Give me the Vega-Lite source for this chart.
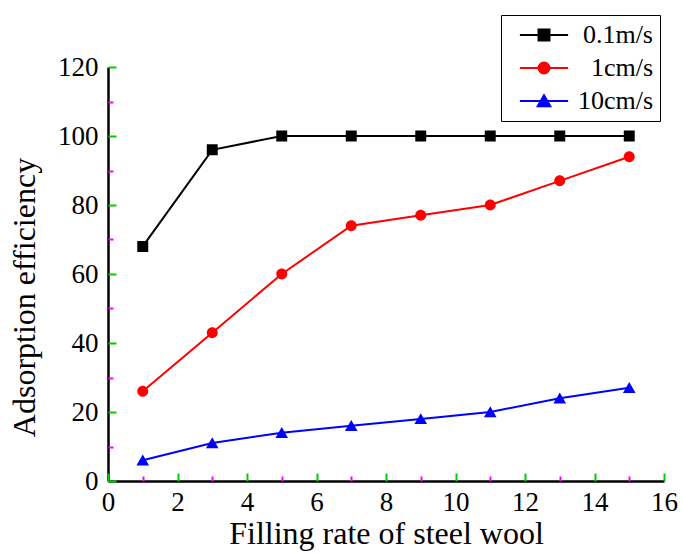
{
  "$schema": "https://vega.github.io/schema/vega-lite/v6.json",
  "width": 556,
  "height": 414,
  "autosize": {"type": "none"},
  "padding": {"left": 108, "top": 67, "right": 19, "bottom": 73},
  "background": "white",
  "config": {
    "font": "Liberation Serif",
    "view": {"stroke": null},
    "axis": {"grid": false, "domainColor": "black", "tickColor": "black", "labelColor": "black", "titleColor": "black", "labelFont": "Liberation Serif", "titleFont": "Liberation Serif", "titleFontWeight": "normal"},
    "legend": {"labelFont": "Liberation Serif"}
  },
  "data": {
    "values": [
      {"rate": 1, "eff": 68, "series": "0.1m/s"},
      {"rate": 3, "eff": 96, "series": "0.1m/s"},
      {"rate": 5, "eff": 100, "series": "0.1m/s"},
      {"rate": 7, "eff": 100, "series": "0.1m/s"},
      {"rate": 9, "eff": 100, "series": "0.1m/s"},
      {"rate": 11, "eff": 100, "series": "0.1m/s"},
      {"rate": 13, "eff": 100, "series": "0.1m/s"},
      {"rate": 15, "eff": 100, "series": "0.1m/s"},
      {"rate": 1, "eff": 26, "series": "1cm/s"},
      {"rate": 3, "eff": 43, "series": "1cm/s"},
      {"rate": 5, "eff": 60, "series": "1cm/s"},
      {"rate": 7, "eff": 74, "series": "1cm/s"},
      {"rate": 9, "eff": 77, "series": "1cm/s"},
      {"rate": 11, "eff": 80, "series": "1cm/s"},
      {"rate": 13, "eff": 87, "series": "1cm/s"},
      {"rate": 15, "eff": 94, "series": "1cm/s"},
      {"rate": 1, "eff": 6, "series": "10cm/s"},
      {"rate": 3, "eff": 11, "series": "10cm/s"},
      {"rate": 5, "eff": 14, "series": "10cm/s"},
      {"rate": 7, "eff": 16, "series": "10cm/s"},
      {"rate": 9, "eff": 18, "series": "10cm/s"},
      {"rate": 11, "eff": 20, "series": "10cm/s"},
      {"rate": 13, "eff": 24, "series": "10cm/s"},
      {"rate": 15, "eff": 27, "series": "10cm/s"}
    ]
  },
  "resolve": {"axis": {"x": "independent", "y": "independent"}, "legend": {"color": "independent"}},
  "layer": [
    {
      "mark": {"type": "line", "strokeWidth": 2},
      "encoding": {
        "x": {"field": "rate", "type": "quantitative", "scale": {"domain": [0, 16], "nice": false, "zero": false},
          "axis": {"orient": "bottom", "title": "Filling rate of steel wool", "titleFont": "Liberation Serif", "titleFontSize": 32, "titlePadding": 3, "values": [0, 2, 4, 6, 8, 10, 12, 14, 16], "labelFont": "Liberation Serif", "labelFontSize": 27, "labelPadding": 8, "ticks": false, "domainWidth": 2.5, "labelFlush": false, "labelOverlap": false, "zindex": 1}},
        "y": {"field": "eff", "type": "quantitative", "scale": {"domain": [0, 120], "nice": false},
          "axis": {"orient": "left", "title": "Adsorption efficiency", "titleFont": "Liberation Serif", "titleFontSize": 32, "titlePadding": 16, "titleY": 230, "values": [0, 20, 40, 60, 80, 100, 120], "labelFont": "Liberation Serif", "labelFontSize": 27, "labelPadding": 10, "ticks": false, "domainWidth": 2.5, "labelFlush": false, "labelOverlap": false, "zindex": 1}},
        "color": {"field": "series", "type": "nominal", "scale": {"domain": ["0.1m/s", "1cm/s", "10cm/s"], "range": ["#000000", "#ff0000", "#0000ff"]}, "legend": null},
        "detail": {"field": "series"}
      }
    },
    {
      "mark": {"type": "point", "opacity": 0},
      "encoding": {
        "x": {"field": "rate", "type": "quantitative",
          "axis": {"orient": "top", "offset": -414, "title": null, "labels": false, "domain": false, "values": [1, 3, 5, 7, 9, 11, 13, 15], "ticks": true, "tickSize": 5, "tickWidth": 2, "tickColor": "#ff00ff", "zindex": 2}},
        "y": {"field": "eff", "type": "quantitative",
          "axis": {"orient": "right", "offset": -556, "title": null, "labels": false, "domain": false, "values": [10, 30, 50, 70, 90, 110], "ticks": true, "tickSize": 5, "tickWidth": 2, "tickColor": "#ff00ff", "zindex": 2}}
      }
    },
    {
      "mark": {"type": "point", "opacity": 1, "size": 120, "strokeWidth": 0, "fillOpacity": 1, "strokeOpacity": 1},
      "encoding": {
        "x": {"field": "rate", "type": "quantitative",
          "axis": {"orient": "top", "offset": -414, "title": null, "labels": false, "domain": false, "values": [0, 2, 4, 6, 8, 10, 12, 14, 16], "ticks": true, "tickSize": 8, "tickWidth": 2, "tickColor": "#00cc00", "zindex": 2}},
        "y": {"field": "eff", "type": "quantitative",
          "axis": {"orient": "right", "offset": -556, "title": null, "labels": false, "domain": false, "values": [0, 20, 40, 60, 80, 100, 120], "ticks": true, "tickSize": 8, "tickWidth": 2, "tickColor": "#00cc00", "zindex": 2}},
        "fill": {"field": "series", "type": "nominal",
          "scale": {"domain": ["0.1m/s", "1cm/s", "10cm/s"], "range": ["#000000", "#ff0000", "#0000ff"]},
          "legend": {
            "orient": "none", "legendX": 393, "legendY": -52,
            "title": null, "strokeColor": "black", "fillColor": "white",
            "padding": 7, "symbolOffset": 23, "symbolSize": 120, "symbolStrokeWidth": 2,
            "labelFontSize": 26, "labelFont": "Liberation Serif", "labelColor": "black", "labelAlign": "right", "labelOffset": 96, "labelLimit": 200,
            "rowPadding": 7
          }},
        "stroke": {"field": "series", "type": "nominal",
          "scale": {"domain": ["0.1m/s", "1cm/s", "10cm/s"], "range": ["#000000", "#ff0000", "#0000ff"]}},
        "shape": {"field": "series", "type": "nominal",
          "scale": {"domain": ["0.1m/s", "1cm/s", "10cm/s"], "range": [
            "M-4.4,0H4.4M-1,-1H1V1H-1Z",
            "M-4.4,0H4.4M1,0A1,1,0,1,1,-1,0A1,1,0,1,1,1,0Z",
            "M-4.4,0H4.4M0,-1.05L1.15,0.95H-1.15Z"
          ]}}
      }
    }
  ]
}
